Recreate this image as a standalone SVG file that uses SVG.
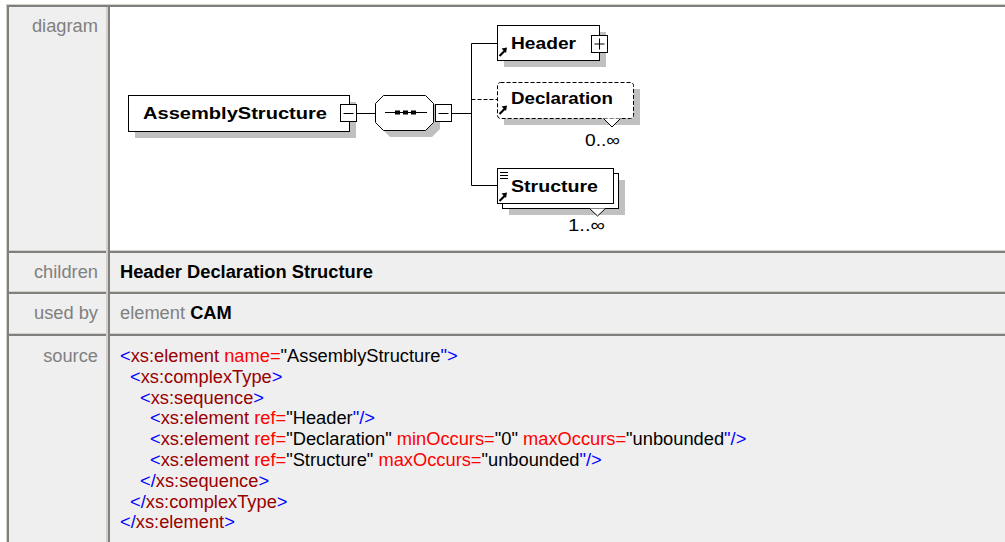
<svg xmlns="http://www.w3.org/2000/svg" xmlns:xlink="http://www.w3.org/1999/xlink" width="1005" height="542" viewBox="0 0 1005 542">
  <style>
    .lbl{font-family:"Liberation Sans",Arial,sans-serif;font-size:18.3px;fill:#808080;text-anchor:end}
    .txt{font-family:"Liberation Sans",Arial,sans-serif;font-size:18.3px;fill:#000}
    .gray{fill:#808080}
    .bold{font-weight:bold}
    .nm{font-family:"Liberation Sans",Arial,sans-serif;font-size:17px;font-weight:bold;fill:#000}
    .occ{font-family:"Liberation Sans",Arial,sans-serif;font-size:17px;fill:#000}
    .box{fill:#fff;stroke:#000;stroke-width:1}
    .shadow{fill:#c0c0c0}
    .wire{stroke:#000;stroke-width:1;fill:none}
    .dash{stroke-dasharray:4 2}
    .light{fill:#d4d0c8}
    .dark{fill:#808080}
    .m{fill:#0000ff}
    .t{fill:#990000}
    .a{fill:#ff0000}
    .v{fill:#000}
  </style>
  <defs>
    <!-- reference arrow glyph drawn at the lower left of element boxes -->
    <g id="refArrow">
      <path d="M1.5 9 L6.5 4" stroke="#000" stroke-width="2.2" fill="none"/>
      <path d="M9 0.5 L3.5 1.5 L8 6 Z" fill="#000"/>
    </g>
  </defs>

  <!-- page and table cells -->
  <rect x="0" y="0" width="1005" height="542" fill="#fff"/>
  <rect x="8" y="7" width="100" height="535" fill="#efefef"/>
  <rect x="110" y="7" width="895" height="243" fill="#fff"/>
  <rect x="110" y="253" width="895" height="38" fill="#efefef"/>
  <rect x="110" y="294" width="895" height="39" fill="#efefef"/>
  <rect x="110" y="336" width="895" height="206" fill="#efefef"/>

  <!-- table borders -->
  <g id="table-borders">
    <rect class="light" x="7" y="4" width="998" height="1"/>
    <rect class="dark" x="8" y="5" width="997" height="2"/>
    <rect class="light" x="8" y="250" width="997" height="1"/>
    <rect class="dark" x="8" y="251" width="997" height="2"/>
    <rect class="light" x="8" y="291" width="997" height="1"/>
    <rect class="dark" x="8" y="292" width="997" height="2"/>
    <rect class="light" x="8" y="333" width="997" height="1"/>
    <rect class="dark" x="8" y="334" width="997" height="2"/>
    <rect class="light" x="6" y="4" width="1" height="538"/>
    <rect class="dark" x="7" y="5" width="2" height="537"/>
    <rect class="light" x="106" y="7" width="2" height="535"/>
    <rect class="dark" x="108" y="7" width="2" height="535"/>
  </g>

  <!-- row labels -->
  <text class="lbl" x="98" y="32">diagram</text>
  <text class="lbl" x="98" y="278">children</text>
  <text class="lbl" x="98" y="319">used by</text>
  <text class="lbl" x="98" y="362">source</text>

  <!-- children / used by -->
  <text class="txt bold" x="120" y="278">Header Declaration Structure</text>
  <text class="txt" x="120" y="319" xml:space="preserve"><tspan class="gray">element </tspan><tspan class="bold">CAM</tspan></text>

  <!-- connectors -->
  <g id="connectors">
    <path class="wire" d="M357 113.5 H375"/>
    <path class="wire" d="M452 113.5 H471.5"/>
    <path class="wire" d="M471.5 43.5 V185.5"/>
    <path class="wire" d="M471.5 43.5 H497"/>
    <path class="wire dash" d="M471.5 99.5 H497"/>
    <path class="wire" d="M471.5 185.5 H497"/>
  </g>

  <!-- root element -->
  <g id="node-assemblystructure">
    <rect class="shadow" x="135" y="102" width="221" height="36"/>
    <rect class="box" x="128.5" y="95.5" width="221" height="36"/>
    <text class="nm" x="143" y="119" textLength="184" lengthAdjust="spacingAndGlyphs">AssemblyStructure</text>
    <rect class="box" x="340.5" y="104.5" width="16" height="17"/>
    <path class="wire" d="M343.5 113.5 H353.5"/>
  </g>

  <!-- sequence compositor -->
  <g id="node-sequence">
    <path class="shadow" d="M390 102 H432 L440 110 V129 L432 137 H390 L382 129 V110 Z"/>
    <path class="box" d="M383.5 95.5 H425.5 L433.5 103.5 V122.5 L425.5 130.5 H383.5 L375.5 122.5 V103.5 Z"/>
    <path class="wire" d="M385 112.5 H427"/>
    <rect x="395" y="110.5" width="5" height="4" fill="#000"/>
    <rect x="403" y="110.5" width="5" height="4" fill="#000"/>
    <rect x="411" y="110.5" width="5" height="4" fill="#000"/>
    <rect class="box" x="435.5" y="104.5" width="16" height="17"/>
    <path class="wire" d="M438.5 113.5 H448.5"/>
  </g>

  <!-- Header -->
  <g id="node-header">
    <rect class="shadow" x="504" y="32" width="102" height="35"/>
    <rect class="box" x="497.5" y="25.5" width="102" height="35"/>
    <text class="nm" x="511" y="48.5" textLength="65" lengthAdjust="spacingAndGlyphs">Header</text>
    <use xlink:href="#refArrow" x="498" y="47"/>
    <rect class="box" x="591.5" y="35.5" width="16" height="17"/>
    <path class="wire" d="M594.5 44 H604.5 M599.5 38.5 V49.5"/>
  </g>

  <!-- Declaration (optional, repeating) -->
  <g id="node-declaration">
    <rect class="shadow" x="504" y="89" width="136" height="36"/>
    <rect class="box dash" x="497.5" y="82.5" width="136" height="36" rx="3"/>
    <text class="nm" x="511" y="104" textLength="102" lengthAdjust="spacingAndGlyphs">Declaration</text>
    <use xlink:href="#refArrow" x="498" y="105"/>
    <path d="M603.5 118.5 L612 127 L620.5 118.5" fill="#fff" stroke="#000" stroke-width="1"/>
    <text class="occ" x="585" y="146" textLength="35" lengthAdjust="spacingAndGlyphs">0..∞</text>
  </g>

  <!-- Structure (repeating) -->
  <g id="node-structure">
    <rect class="shadow" x="509" y="180" width="116" height="35"/>
    <rect class="box" x="502.5" y="173.5" width="116" height="35"/>
    <rect class="box" x="497.5" y="168.5" width="116" height="35"/>
    <path class="wire" d="M500 172.5 H508 M500 175.5 H508 M500 178.5 H508"/>
    <text class="nm" x="511" y="192" textLength="87" lengthAdjust="spacingAndGlyphs">Structure</text>
    <use xlink:href="#refArrow" x="498" y="192"/>
    <path d="M589.5 208.5 L597.5 216 L605.5 208.5" fill="#fff" stroke="#000" stroke-width="1"/>
    <text class="occ" x="568" y="231" textLength="37" lengthAdjust="spacingAndGlyphs">1..∞</text>
  </g>

  <!-- schema source -->
  <g id="source" class="txt">
    <text x="120" y="362" xml:space="preserve"><tspan class="m">&lt;</tspan><tspan class="t">xs:element</tspan><tspan class="a"> name=</tspan><tspan class="v">"AssemblyStructure</tspan><tspan class="m">"&gt;</tspan></text>
    <text x="130" y="382.8" xml:space="preserve"><tspan class="m">&lt;</tspan><tspan class="t">xs:complexType</tspan><tspan class="m">&gt;</tspan></text>
    <text x="140" y="403.6" xml:space="preserve"><tspan class="m">&lt;</tspan><tspan class="t">xs:sequence</tspan><tspan class="m">&gt;</tspan></text>
    <text x="150" y="424.4" xml:space="preserve"><tspan class="m">&lt;</tspan><tspan class="t">xs:element</tspan><tspan class="a"> ref=</tspan><tspan class="v">"Header</tspan><tspan class="m">"/&gt;</tspan></text>
    <text x="150" y="445.2" xml:space="preserve"><tspan class="m">&lt;</tspan><tspan class="t">xs:element</tspan><tspan class="a"> ref=</tspan><tspan class="v">"Declaration"</tspan><tspan class="a"> minOccurs=</tspan><tspan class="v">"0"</tspan><tspan class="a"> maxOccurs=</tspan><tspan class="v">"unbounded</tspan><tspan class="m">"/&gt;</tspan></text>
    <text x="150" y="466" xml:space="preserve"><tspan class="m">&lt;</tspan><tspan class="t">xs:element</tspan><tspan class="a"> ref=</tspan><tspan class="v">"Structure"</tspan><tspan class="a"> maxOccurs=</tspan><tspan class="v">"unbounded</tspan><tspan class="m">"/&gt;</tspan></text>
    <text x="140" y="486.8" xml:space="preserve"><tspan class="m">&lt;/</tspan><tspan class="t">xs:sequence</tspan><tspan class="m">&gt;</tspan></text>
    <text x="130" y="507.6" xml:space="preserve"><tspan class="m">&lt;/</tspan><tspan class="t">xs:complexType</tspan><tspan class="m">&gt;</tspan></text>
    <text x="120" y="528.4" xml:space="preserve"><tspan class="m">&lt;/</tspan><tspan class="t">xs:element</tspan><tspan class="m">&gt;</tspan></text>
  </g>
</svg>
